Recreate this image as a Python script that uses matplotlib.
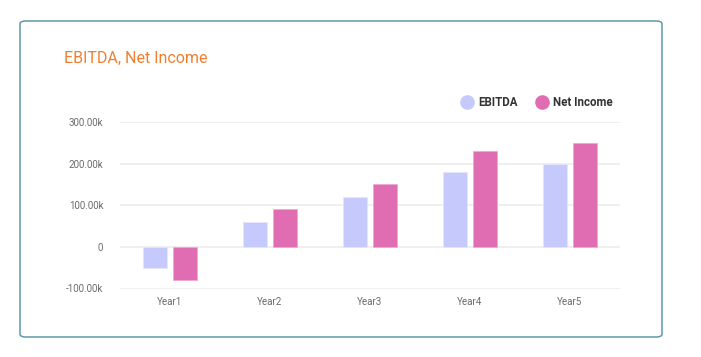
import matplotlib
matplotlib.use("Agg")
import matplotlib.pyplot as plt
from matplotlib.patches import FancyBboxPatch
from matplotlib.lines import Line2D
from matplotlib.ticker import FuncFormatter
import numpy as np

categories = ["Year1", "Year2", "Year3", "Year4", "Year5"]
ebitda = [-50000, 60000, 120000, 180000, 200000]
net_income = [-80000, 90000, 150000, 230000, 250000]
series_names = ["EBITDA", "Net Income"]
yticks = [-100000, 0, 100000, 200000, 300000]

c_ebitda = "#c5c9fb"
c_ni = "#e06cb2"

W, H = 701, 357
fig = plt.figure(figsize=(W / 100, H / 100), dpi=100)
fig.patch.set_facecolor("white")

# card
card = FancyBboxPatch((20 / W, (H - 337) / H), 642 / W, 316 / H,
                      boxstyle="round,pad=0,rounding_size=0.008",
                      transform=fig.transFigure, facecolor="none",
                      edgecolor="#5f9aa8", linewidth=1.1, zorder=-10)
fig.patches.append(card)

fig.text(64 / W, 1 - 58 / H, "EBITDA, Net Income", color="#f07f2f",
         fontsize=11.5, family="Roboto", va="center", ha="left")

ax = fig.add_axes([120 / W, (H - 288.5) / H, 500 / W, 166.5 / H])
ax.set_facecolor("none")
x = np.arange(len(categories))
bw = 0.24
ax.bar(x - 0.15, ebitda, width=bw, color=c_ebitda, edgecolor="#e4e6fd",
       linewidth=0.6, zorder=3)
ax.bar(x + 0.15, net_income, width=bw, color=c_ni, edgecolor="#eea9d2",
       linewidth=0.6, zorder=3)

ax.set_xlim(-0.5, len(categories) - 0.5)
ax.set_ylim(-100000, 300000)
ax.set_yticks(yticks)

def fmt(v, pos):
    if v == 0:
        return "0"
    return f"{v / 1000:.2f}k"

ax.yaxis.set_major_formatter(FuncFormatter(fmt))
ax.set_xticks(x)
ax.set_xticklabels(categories)
ax.grid(axis="y", color="#ebebeb", linewidth=1.1, zorder=0)
ax.set_axisbelow(True)
for s in ax.spines.values():
    s.set_visible(False)
ax.tick_params(axis="both", length=0, labelsize=7, labelcolor="#6b6b6b")
ax.tick_params(axis="y", pad=12)
ax.tick_params(axis="x", pad=6)
for lbl in ax.get_xticklabels() + ax.get_yticklabels():
    lbl.set_family("Roboto")

# legend (manual placement)
leg_y = 1 - 102 / H
for name, col, cx in zip(series_names, (c_ebitda, c_ni), (467, 541.5)):
    fig.add_artist(Line2D([cx / W], [leg_y], marker="o", linestyle="",
                          markersize=9.5, markerfacecolor=col,
                          markeredgecolor=col, transform=fig.transFigure))
    fig.text((cx + 11.5) / W, leg_y, name, color="#333333", fontsize=8.3,
             fontweight="bold", family="Roboto", va="center", ha="left")

fig.savefig("out.png", dpi=100, facecolor="white")
